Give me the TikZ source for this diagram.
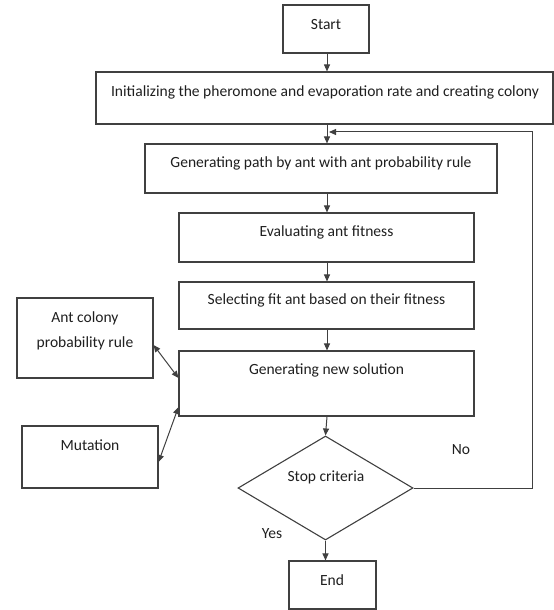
\documentclass[tikz,border=0pt]{standalone}
\usepackage{fontspec}
\setmainfont{Carlito}
\usetikzlibrary{arrows.meta,shapes.geometric,calc}
\begin{document}
\begin{tikzpicture}[x=1bp,y=-1bp,
  box/.style={draw=linec, line width=1.1bp, inner sep=0pt, fill=white},
  txt/.style={inner sep=0pt, text=textc, font=\fontsize{15.6}{18}\selectfont, align=center},
  arr/.style={draw=linec, line width=1bp, -{Triangle[length=7bp,width=6bp]}},
  arrtwo/.style={draw=linec, line width=1bp, {Triangle[length=7bp,width=6bp]}-{Triangle[length=7bp,width=6bp]}}]
\definecolor{linec}{HTML}{404040}
\definecolor{textc}{HTML}{1F1F1F}
\useasboundingbox (0,0) rectangle (554,610);
% boxes
\node[box, minimum width=86bp, minimum height=48bp] (start) at (326,29) {};
\node[txt] (tstart) at (326,25) {Start};
\node[box, minimum width=457bp, minimum height=52bp] (init) at (324.5,98) {};
\node[txt] (tinit) at (325,92) {Initializing the pheromone and evaporation rate and creating colony};
\node[box, minimum width=352bp, minimum height=49bp] (gpath) at (321,168.5) {};
\node[txt] (tgpath) at (321,163) {Generating path by ant with ant probability rule};
\node[box, minimum width=295bp, minimum height=49bp] (eval) at (326.5,237.5) {};
\node[txt] (teval) at (326.5,232) {Evaluating ant fitness};
\node[box, minimum width=295bp, minimum height=47bp] (sel) at (326.5,305.5) {};
\node[txt] (tsel) at (326.5,300) {Selecting fit ant based on their fitness};
\node[box, minimum width=295bp, minimum height=65bp] (gnew) at (326.5,383.5) {};
\node[txt] (tgnew) at (326.5,370) {Generating new solution};
\node[box, minimum width=136bp, minimum height=80bp] (antc) at (85,338) {};
\node[txt] (tantc1) at (85,318) {Ant colony};
\node[txt] (tantc2) at (85,343) {probability rule};
\node[box, minimum width=136bp, minimum height=62bp] (mut) at (90,457) {};
\node[txt] (tmut) at (90,445) {Mutation};
\node[box, diamond, minimum width=175bp, minimum height=104bp, shape aspect=1.68] (stop) at (325.5,488) {};
\node[txt] (tstop) at (326,477) {Stop criteria};
\node[box, minimum width=87bp, minimum height=48bp] (end) at (332.5,585) {};
\node[txt] (tend) at (332,580) {End};
\node[txt] (tno) at (461,450) {No};
\node[txt] (tyes) at (272,534) {Yes};
% connectors
\coordinate (axis) at (327,0);
\coordinate (fbend) at (329,132);
\coordinate (fbx) at (532,0);
\draw[arr] (start.south -| axis) -- (init.north -| axis);
\draw[arr] (init.south -| axis) -- (gpath.north -| axis);
\draw[arr] (gpath.south -| axis) -- (eval.north -| axis);
\draw[arr] (eval.south -| axis) -- (sel.north -| axis);
\draw[arr] (sel.south -| axis) -- (gnew.north -| axis);
\draw[arr] (gnew.south -| axis) -- (stop.north);
\draw[arr] (stop.south) -- (end.north -| stop.south);
\draw[arr] (stop.east) -- (stop.east -| fbx) |- (fbend);
\draw[arrtwo] ($(antc.east)+(0,7)$) -- ($(gnew.west)+(0,-5.5)$);
\draw[arrtwo] ($(mut.east)+(0,5)$) -- ($(gnew.west)+(0,23.5)$);
\end{tikzpicture}
\end{document}
